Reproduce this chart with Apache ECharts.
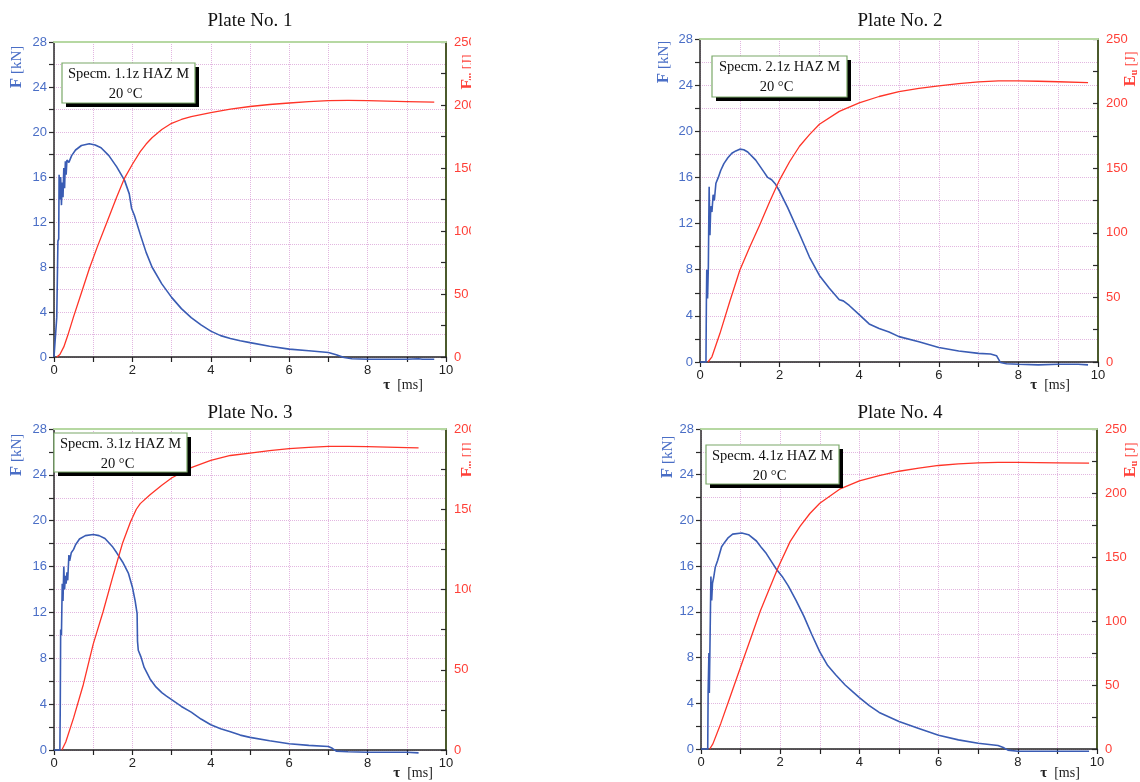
<!DOCTYPE html>
<html>
<head>
<meta charset="utf-8">
<script src="https://cdn.jsdelivr.net/npm/echarts@6/dist/echarts.min.js"></script>
<style>html,body{margin:0;padding:0;background:#fff;}#c{width:1140px;height:782px;}</style>
</head>
<body>
<div id="c"></div>
<script>
// ---------------- DATA ----------------
const plateTitles = ['Plate No. 1', 'Plate No. 2', 'Plate No. 3', 'Plate No. 4'];
const specimenLabels = ['Specm. 1.1z HAZ M', 'Specm. 2.1z HAZ M', 'Specm. 3.1z HAZ M', 'Specm. 4.1z HAZ M'];
const temperatureLabel = '20 °C';
const energyAxisMax = [250, 250, 200, 250];
const forceAxisMax = 28;
const timeAxisMax = 10;

// Plate 1
const p1ForceT = [0,0.05,0.07,0.09,0.10,0.12,0.13,0.15,0.17,0.19,0.21,0.23,0.25,0.27,0.29,0.31,0.33,0.38,0.45,0.55,0.7,0.9,1.05,1.2,1.4,1.6,1.8,1.92,1.98,2.05,2.2,2.35,2.5,2.75,3.0,3.25,3.5,3.75,4.0,4.25,4.5,4.75,5.0,5.5,6.0,6.5,7.0,7.05,7.2,7.4,7.6,8.0,8.5,9.0,9.3,9.4,9.7];
const p1Force  = [0,0,3.5,8,10.3,10.5,16.2,14,16,13.5,15.5,14.2,16.8,15,17.4,16.2,17.5,17.3,17.9,18.4,18.8,18.95,18.85,18.6,17.9,16.9,15.7,14.5,13.2,12.6,10.9,9.3,8.0,6.5,5.3,4.3,3.5,2.85,2.3,1.9,1.65,1.45,1.28,0.95,0.7,0.55,0.4,0.45,0.2,-0.05,-0.15,-0.2,-0.2,-0.2,-0.15,-0.2,-0.2];
const p1EnergyT = [0.07,0.15,0.25,0.35,0.5,0.7,0.9,1.1,1.35,1.6,1.8,2.0,2.2,2.35,2.5,2.75,3.0,3.25,3.5,4.0,4.5,5.0,5.5,6.0,6.5,7.0,7.5,8.0,8.5,9.0,9.7];
const p1Energy  = [0,2,8,17,32,51,70,87,107,127,142,153,163,169,174,180.5,185.5,188.5,190.8,194,196.7,198.8,200.4,201.6,202.7,203.5,203.6,203.4,203,202.6,202.3];

// Plate 2
const p2ForceT = [0,0.15,0.16,0.17,0.19,0.21,0.22,0.23,0.25,0.27,0.3,0.33,0.36,0.4,0.46,0.52,0.6,0.7,0.8,0.9,1.0,1.1,1.2,1.4,1.6,1.7,1.8,1.9,2.0,2.2,2.5,2.75,3.0,3.25,3.5,3.6,3.75,4.0,4.25,4.5,4.75,5.0,5.5,6.0,6.5,7.0,7.3,7.45,7.55,7.7,8.0,8.5,9.0,9.5,9.75];
const p2Force  = [0,0,5,8,5.5,8.3,12,15.2,11,13.5,13,14.5,14,15.5,16,16.6,17.2,17.7,18.1,18.3,18.45,18.4,18.2,17.5,16.5,16.0,15.8,15.4,14.8,13.4,11.1,9.1,7.5,6.4,5.4,5.3,4.9,4.1,3.3,2.9,2.6,2.2,1.75,1.25,0.95,0.75,0.7,0.55,-0.05,-0.15,-0.2,-0.25,-0.2,-0.2,-0.25];
const p2EnergyT = [0.2,0.3,0.5,0.75,1.0,1.25,1.5,1.75,2.0,2.25,2.5,2.75,3.0,3.5,4.0,4.5,5.0,5.5,6.0,6.5,7.0,7.5,8.0,8.5,9.0,9.75];
const p2Energy  = [0,4,22,47,71,89,106,124,141,155,167,176,184,194,200.5,205.5,209.3,211.8,213.7,215.4,216.8,217.6,217.6,217.3,216.9,216.3];

// Plate 3
const p3ForceT = [0,0.15,0.16,0.17,0.19,0.21,0.23,0.25,0.27,0.29,0.31,0.33,0.35,0.38,0.4,0.44,0.5,0.55,0.65,0.8,1.0,1.15,1.3,1.5,1.6,1.75,1.9,2.0,2.07,2.12,2.13,2.15,2.22,2.3,2.45,2.6,2.75,2.87,3.0,3.25,3.5,3.75,4.0,4.25,4.5,4.75,5.0,5.5,6.0,6.5,7.0,7.1,7.2,7.5,8.0,8.5,9.0,9.3];
const p3Force  = [0,0,4,10.5,10,14.5,13,16,14,15.2,14.5,15.5,14.8,17,16.5,17.2,17.5,17.9,18.4,18.7,18.8,18.7,18.45,17.7,17.2,16.4,15.4,14.2,13.0,11.9,9.5,8.7,8.1,7.2,6.2,5.5,5.0,4.7,4.4,3.8,3.3,2.7,2.2,1.85,1.6,1.3,1.1,0.8,0.55,0.4,0.3,0.15,-0.1,-0.15,-0.2,-0.2,-0.2,-0.25];
const p3EnergyT = [0.2,0.3,0.5,0.75,1.0,1.25,1.5,1.75,1.95,2.1,2.2,2.45,2.75,3.0,3.5,4.0,4.5,5.0,5.5,6.0,6.5,7.0,7.5,8.0,8.5,9.0,9.3];
const p3Energy  = [0,5,20,41,66,86,108,129,142,150,153.5,159,165,169.5,176,180.5,183.5,185,186.5,187.8,188.6,189.2,189.2,189,188.7,188.4,188.2];

// Plate 4
const p4ForceT = [0,0.17,0.18,0.2,0.21,0.23,0.25,0.27,0.29,0.32,0.36,0.42,0.52,0.6,0.69,0.8,1.03,1.2,1.4,1.53,1.65,1.91,2.05,2.2,2.4,2.6,2.8,3.0,3.2,3.4,3.64,3.8,4.0,4.25,4.5,4.75,5.0,5.5,6.0,6.5,7.0,7.5,7.65,7.75,8.0,8.5,9.0,9.5,9.8];
const p4Force  = [0,0,5,8.4,4.9,10,15.1,13,14.5,15,15.9,16.5,17.7,18.1,18.5,18.8,18.9,18.75,18.2,17.6,17.1,15.7,15.1,14.3,13.0,11.6,10.0,8.5,7.3,6.5,5.6,5.1,4.5,3.8,3.2,2.8,2.4,1.8,1.2,0.8,0.5,0.3,0.1,-0.1,-0.2,-0.2,-0.2,-0.2,-0.2];
const p4EnergyT = [0.22,0.3,0.5,0.75,1.0,1.25,1.5,1.75,1.95,2.25,2.5,2.75,3.0,3.5,4.0,4.5,5.0,5.5,6.0,6.5,7.0,7.5,8.0,8.5,9.0,9.8];
const p4Energy  = [0,4,20,42,64,86,108,127,142,162,174,184,192,203,209.5,213.5,217,219.5,221.5,222.8,223.6,224,224,223.8,223.5,223.3];

// ---------------- CHART ----------------
const zip = (a, b) => a.map((t, i) => [t, b[i]]);
const forceSets = [zip(p1ForceT, p1Force), zip(p2ForceT, p2Force), zip(p3ForceT, p3Force), zip(p4ForceT, p4Force)];
const energySets = [zip(p1EnergyT, p1Energy), zip(p2EnergyT, p2Energy), zip(p3EnergyT, p3Energy), zip(p4EnergyT, p4Energy)];

const grids = [
  {left: 54, top: 42, width: 392, height: 315},
  {left: 700, top: 39, width: 398, height: 323},
  {left: 54, top: 429, width: 392, height: 321},
  {left: 701, top: 429, width: 396, height: 320}
];
const titlePos = [[245, 7], [895, 7], [245, 399], [895, 399]];
const fNamePos = [[17, 67], [664, 62], [17, 455], [668, 457]];
const eNamePos = [[468, 72], [1131, 69], [468, 460], [1131, 460]];
const tauPos = [[403, 385], [1050, 385], [413, 773], [1060, 773]];
const boxPos = [[62, 63, 133, 40], [712, 56, 135, 41], [54, 433, 133, 39], [706, 445, 133, 39]];

const BLUE = '#3a5cb4';
const RED = '#ff3428';
const LBLUE = '#4a6ec6';
const LRED = '#ff4038';
const SANS = '"Liberation Sans", Arial, sans-serif';
const SERIF = '"Liberation Serif", "Times New Roman", serif';
const GRIDC = '#e2b6e0';

const bottomAxes = grids.map((g, i) => ({
  type: 'value', gridIndex: i, min: 0, max: timeAxisMax, interval: 1, position: 'bottom',
  axisLine: {onZero: false, lineStyle: {color: '#222', width: 1.5}},
  axisTick: {inside: false, length: 5, lineStyle: {color: '#222', width: 1.2}},
  axisLabel: {color: '#222', fontFamily: SANS, fontSize: 13, margin: 7,
    formatter: v => (v % 2 === 0 ? String(v) : '')},
  splitLine: {show: true, lineStyle: {color: GRIDC, type: 'dotted', width: 1}}
}));
const topAxes = grids.map((g, i) => ({
  type: 'value', gridIndex: i, min: 0, max: timeAxisMax, position: 'top',
  axisLine: {onZero: false, lineStyle: {color: '#b6d8a2', width: 2}},
  axisTick: {show: false}, axisLabel: {show: false}, splitLine: {show: false}, z: 5
}));

const option = {
  animation: false,
  backgroundColor: '#ffffff',
  title: plateTitles.map((t, i) => ({
    text: t, left: titlePos[i][0], top: titlePos[i][1], textAlign: 'center',
    textStyle: {fontFamily: SERIF, fontSize: 19, fontWeight: 'normal', color: '#111'}
  })),
  grid: grids.map(g => Object.assign({show: false}, g)),
  xAxis: bottomAxes.concat(topAxes),
  yAxis: [].concat(...grids.map((g, i) => [
    {
      type: 'value', gridIndex: i, position: 'left', min: 0, max: forceAxisMax, interval: 2,
      axisLine: {show: true, onZero: false, lineStyle: {color: '#2a2a2a', width: 1.5}},
      axisTick: {show: true, inside: false, length: 5, lineStyle: {color: '#2a2a2a', width: 1.2}},
      axisLabel: {color: LBLUE, fontFamily: SANS, fontSize: 13, margin: 7,
        formatter: v => (v % 4 === 0 ? String(v) : '')},
      splitLine: {show: true, lineStyle: {color: GRIDC, type: 'dotted', width: 1}}
    },
    {
      type: 'value', gridIndex: i, position: 'right', min: 0, max: energyAxisMax[i], interval: 25,
      axisLine: {show: true, onZero: false, lineStyle: {color: '#4b5a2c', width: 2}},
      axisTick: {show: true, inside: true, length: 5, lineStyle: {color: '#2a2a2a', width: 1.2}},
      axisLabel: {color: LRED, fontFamily: SANS, fontSize: 13, margin: 8,
        formatter: v => (v % 50 === 0 ? String(v) : '')},
      splitLine: {show: false}
    }
  ])),
  series: [].concat(...grids.map((g, i) => [
    {
      type: 'line', xAxisIndex: i, yAxisIndex: 2 * i, data: forceSets[i], showSymbol: false,
      clip: false, lineStyle: {color: BLUE, width: 1.6}, z: 3
    },
    {
      type: 'line', xAxisIndex: i, yAxisIndex: 2 * i + 1, data: energySets[i], showSymbol: false,
      smooth: false, clip: false, lineStyle: {color: RED, width: 1.3, join: 'round'}, z: 4
    }
  ])),
  graphic: [].concat(
    ...grids.map((g, i) => {
      const b = boxPos[i];
      return [
        {type: 'rect', shape: {x: b[0] + 4, y: b[1] + 4, width: b[2], height: b[3]},
          style: {fill: '#000'}, z: 50},
        {type: 'rect', shape: {x: b[0], y: b[1], width: b[2], height: b[3]},
          style: {fill: '#fff', stroke: '#7aa868', lineWidth: 1.2}, z: 51},
        {type: 'text', x: b[0] + b[2] / 2, y: b[1] + 11, z: 52,
          style: {text: specimenLabels[i], font: '14.5px ' + SERIF, fill: '#111', align: 'center', verticalAlign: 'middle'}},
        {type: 'text', x: b[0] + b[2] / 2 - 3, y: b[1] + 31, z: 52,
          style: {text: temperatureLabel, font: '14.5px ' + SERIF, fill: '#111', align: 'center', verticalAlign: 'middle'}},
        {type: 'text', x: fNamePos[i][0], y: fNamePos[i][1], rotation: Math.PI / 2, z: 52,
          style: {text: '{b|F} [kN]', fill: LBLUE, align: 'center', verticalAlign: 'middle', font: '15px ' + SERIF,
            rich: {b: {fontFamily: SERIF, fontSize: 17, fontWeight: 'bold', fill: LBLUE}}}},
        {type: 'text', x: eNamePos[i][0], y: eNamePos[i][1], rotation: Math.PI / 2, z: 52,
          style: {text: '{b|E}{s|u} [J]', fill: LRED, align: 'center', verticalAlign: 'middle', font: '14px ' + SERIF,
            rich: {b: {fontFamily: SERIF, fontSize: 17, fontWeight: 'bold', fill: LRED},
                   s: {fontFamily: SERIF, fontSize: 10, fontWeight: 'bold', fill: LRED, verticalAlign: 'bottom', padding: [7, 0, 0, 0]}}}},
        {type: 'text', x: tauPos[i][0], y: tauPos[i][1], z: 52,
          style: {text: '{b|τ}  [ms]', fill: '#222', align: 'center', verticalAlign: 'middle', font: '14px ' + SERIF,
            rich: {b: {fontFamily: SERIF, fontSize: 15, fontWeight: 'bold', fill: '#222'}}}}
      ];
    }),
    [{type: 'rect', shape: {x: 471, y: 0, width: 186, height: 782}, style: {fill: '#fff'}, z: 100}]
  )
};

const chart = echarts.init(document.getElementById('c'), null, {renderer: 'canvas'});
chart.setOption(option);
</script>
</body>
</html>
